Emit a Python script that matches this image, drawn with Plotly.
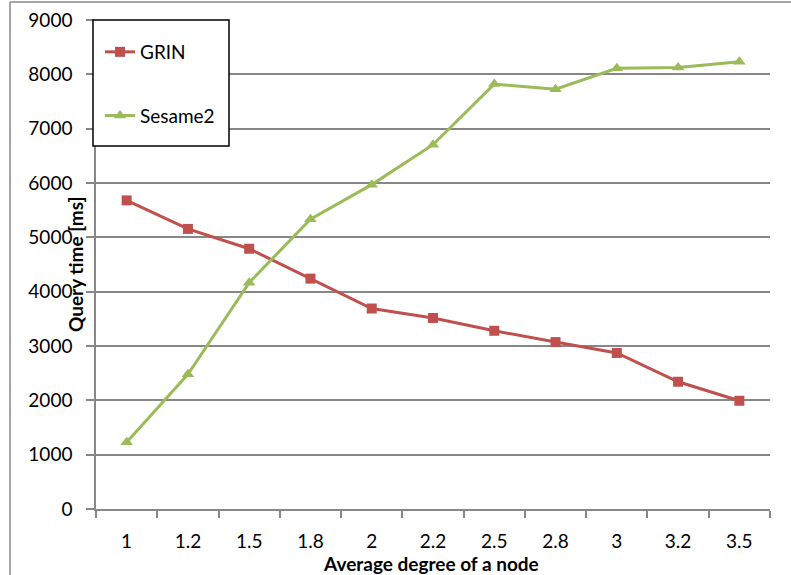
import plotly.graph_objects as go

categories = ["1", "1.2", "1.5", "1.8", "2", "2.2", "2.5", "2.8", "3", "3.2", "3.5"]
grin = [5680, 5155, 4790, 4240, 3690, 3515, 3280, 3072, 2872, 2342, 1992]
sesame2 = [1230, 2480, 4165, 5335, 5970, 6705, 7820, 7725, 8112, 8128, 8232]
y_ticks = [0, 1000, 2000, 3000, 4000, 5000, 6000, 7000, 8000, 9000]

W, H = 791, 575
L, R, T, B = 96, 21, 20, 66
pw, ph = W - L - R, H - T - B

def px(x):
    return (x - L) / pw

def py(y):
    return (H - B - y) / ph

font = "Lato, 'Open Sans', sans-serif"
grid = "#878787"

fig = go.Figure()
fig.add_trace(go.Scatter(
    x=categories, y=grin, name="GRIN", mode="lines+markers",
    line=dict(color="#C0504D", width=3),
    marker=dict(symbol="square", size=10, color="#C0504D"),
    legendgroup="a",
))
fig.add_trace(go.Scatter(
    x=categories, y=sesame2, name="Sesame2", mode="lines+markers",
    line=dict(color="#9BBB59", width=3),
    marker=dict(symbol="triangle-up", size=11, color="#9BBB59"),
    legendgroup="b",
))

fig.update_layout(
    width=W, height=H,
    margin=dict(l=L, r=R, t=T, b=B, autoexpand=False),
    paper_bgcolor="white", plot_bgcolor="white",
    font=dict(family=font, size=19, color="black"),
    showlegend=True,
    legend=dict(
        x=px(100), y=py(33), xanchor="left", yanchor="top",
        bgcolor="rgba(0,0,0,0)", borderwidth=0,
        traceorder="grouped", tracegroupgap=36,
        font=dict(family=font, size=19, color="black"),
        itemwidth=30,
    ),
    xaxis=dict(
        type="category", tickson="boundaries", automargin=False,
        showgrid=False, showline=True, linecolor=grid, linewidth=1.5,
        ticks="outside", ticklen=7, tickcolor=grid, tickwidth=1.5,
        tickfont=dict(family=font, size=19), ticklabelstandoff=14,
        range=[-0.5, 10.5],
    ),
    yaxis=dict(
        range=[0, 9000], tickvals=y_ticks, automargin=False,
        showgrid=True, gridcolor=grid, gridwidth=1.5,
        showline=True, linecolor=grid, linewidth=1.5,
        ticks="outside", ticklen=8, tickcolor=grid, tickwidth=1.5,
        tickfont=dict(family=font, size=19), ticklabelstandoff=10,
        zeroline=False,
    ),
    shapes=[
        dict(type="rect", xref="paper", yref="paper",
             x0=px(93), x1=px(229), y0=py(146), y1=py(20),
             line=dict(color="black", width=1.5), fillcolor="white", layer="above"),
        dict(type="line", xref="paper", yref="paper",
             x0=px(10), x1=px(10), y0=py(2), y1=py(580),
             line=dict(color=grid, width=1.5)),
        dict(type="line", xref="paper", yref="paper",
             x0=px(10), x1=px(800), y0=py(2), y1=py(2),
             line=dict(color=grid, width=1.5)),
    ],
    annotations=[
        dict(text="<b>Query time [ms]</b>", xref="paper", yref="paper",
             x=px(75), y=py(265), textangle=-90, showarrow=False,
             xanchor="center", yanchor="middle",
             font=dict(family=font, size=19, color="black")),
        dict(text="<b>Average degree of a node</b>", xref="paper", yref="paper",
             x=px(431), y=py(563), showarrow=False,
             xanchor="center", yanchor="middle",
             font=dict(family=font, size=19, color="black")),
    ],
)

fig.write_html("out.html")
